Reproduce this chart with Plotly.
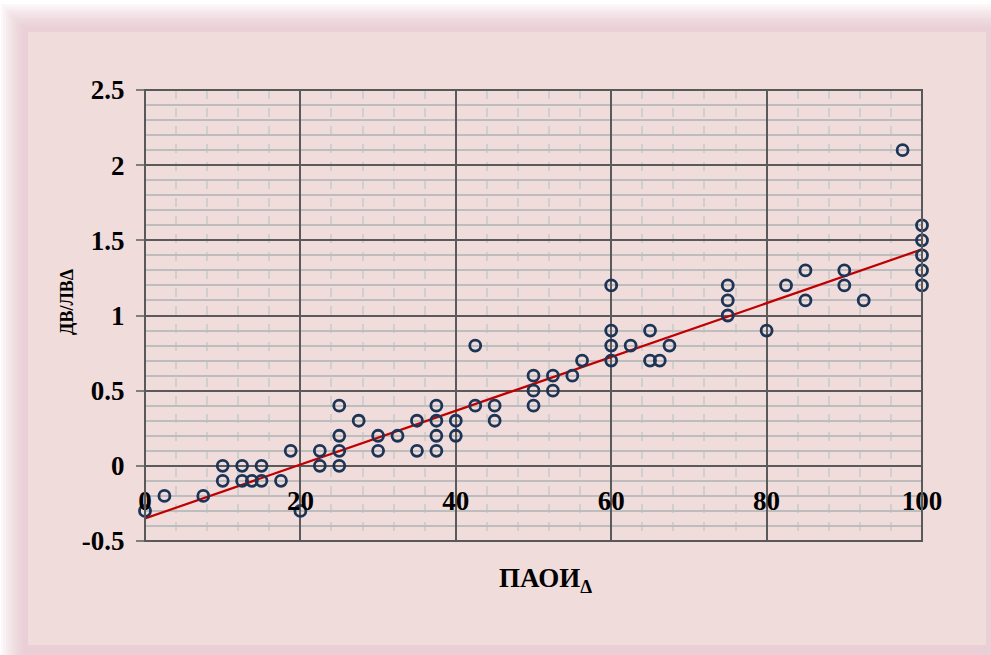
import plotly.graph_objects as go

# ---- data ----
paoi = [0, 2.5, 7.5, 10, 10, 12.5, 12.5, 13.75, 15, 15, 17.5, 18.75, 20, 22.5, 22.5,
        25, 25, 25, 25, 27.5, 30, 30, 32.5, 35, 35, 37.5, 37.5, 37.5, 37.5, 40, 40,
        42.5, 42.5, 45, 45, 50, 50, 50, 52.5, 52.5, 55, 56.25, 60, 60, 60, 60, 62.5,
        65, 65, 66.25, 67.5, 75, 75, 75, 80, 82.5, 85, 85, 90, 90, 92.5, 97.5,
        100, 100, 100, 100, 100]
dv_lv = [-0.3, -0.2, -0.2, 0, -0.1, 0, -0.1, -0.1, 0, -0.1, -0.1, 0.1, -0.3, 0.1, 0,
         0.4, 0.2, 0.1, 0, 0.3, 0.2, 0.1, 0.2, 0.3, 0.1, 0.4, 0.3, 0.2, 0.1, 0.3, 0.2,
         0.8, 0.4, 0.4, 0.3, 0.6, 0.5, 0.4, 0.6, 0.5, 0.6, 0.7, 1.2, 0.9, 0.8, 0.7, 0.8,
         0.9, 0.7, 0.7, 0.8, 1.2, 1.1, 1.0, 0.9, 1.2, 1.3, 1.1, 1.3, 1.2, 1.1, 2.1,
         1.6, 1.5, 1.4, 1.3, 1.2]
trend_x = [0, 100]
trend_y = [-0.35, 1.44]
x_ticks = [0, 20, 40, 60, 80, 100]
x_tick_labels = ["0", "20", "40", "60", "80", "100"]
y_ticks = [-0.5, 0, 0.5, 1, 1.5, 2, 2.5]
y_tick_labels = ["-0.5", "0", "0.5", "1", "1.5", "2", "2.5"]
x_title = "ПАОИ<sub>Δ</sub>"
y_title = "ДВ/ЛВΔ"

W, H = 991, 655
L, R, T, B = 145, 922, 90, 541
FONT = "Liberation Serif"


def px(xp):
    return (xp - L) / (R - L)


def py(yp):
    return (B - yp) / (B - T)


fig = go.Figure()
fig.add_trace(go.Scatter(x=trend_x, y=trend_y, mode="lines",
                         line=dict(color="#c00000", width=2.2), showlegend=False,
                         hoverinfo="skip"))
fig.add_trace(go.Scatter(x=paoi, y=dv_lv, mode="markers", showlegend=False,
                         cliponaxis=False,
                         marker=dict(symbol="circle", size=11, color="rgba(255,255,255,0)",
                                     line=dict(color="#1c3557", width=2.8))))
# invisible trace for the crossing axis that carries the x tick labels
fig.add_trace(go.Scatter(x=[0], y=[0], xaxis="x2", mode="markers",
                         marker=dict(opacity=0), showlegend=False, hoverinfo="skip"))

shapes = []
# soft outer glow
for i in range(10):
    shapes.append(dict(type="rect", xref="paper", yref="paper", layer="below",
                       x0=px(1 + 2.5 * i), x1=px(W + 5), y0=py(H + 5), y1=py(4 + 2.6 * i),
                       fillcolor="#e5bfc3", opacity=0.10, line=dict(width=0)))
# inner panel
shapes.append(dict(type="rect", xref="paper", yref="paper", layer="below",
                   x0=px(28), x1=px(986), y0=py(645), y1=py(32),
                   fillcolor="#f1dcdc", line=dict(width=0)))
# plot border
shapes.append(dict(type="rect", xref="paper", yref="paper", layer="above",
                   x0=0, x1=1, y0=0, y1=1, line=dict(color="#595959", width=2)))
fig.update_layout(shapes=shapes)

fig.update_layout(
    width=W, height=H,
    margin=dict(l=L, r=W - R, t=T, b=H - B),
    paper_bgcolor="#ffffff", plot_bgcolor="#ffffff",
    font=dict(family=FONT, color="#000000"),
    xaxis=dict(range=[0, 100], tickvals=x_ticks, showticklabels=False,
               showgrid=True, gridcolor="#5a5a5a", gridwidth=1.5,
               minor=dict(dtick=4, showgrid=True, gridcolor="#cfcfcf",
                          gridwidth=2, griddash="dash"),
               zeroline=False, showline=False, ticks=""),
    xaxis2=dict(range=[0, 100], overlaying="x", anchor="free", position=1 / 6,
                side="bottom", tickvals=x_ticks, ticktext=x_tick_labels,
                showgrid=False, zeroline=False, showline=False, ticks="",
                ticklabelstandoff=16,
                tickfont=dict(family=FONT, size=27, color="#000000", weight="bold")),
    yaxis=dict(range=[-0.5, 2.5], tickvals=y_ticks, ticktext=y_tick_labels,
               showgrid=True, gridcolor="#5a5a5a", gridwidth=1.5,
               minor=dict(dtick=0.1, showgrid=True, gridcolor="#bdbdbd", gridwidth=2),
               zeroline=True, zerolinecolor="#5a5a5a", zerolinewidth=1.5,
               showline=False, ticks="outside", ticklen=8, tickwidth=1.5,
               tickcolor="#7f7f7f", ticklabelstandoff=6,
               tickfont=dict(family=FONT, size=27, color="#000000", weight="bold")),
    annotations=[
        dict(text=x_title, xref="paper", yref="paper", x=px(545), y=py(580),
             xanchor="center", yanchor="middle", showarrow=False,
             font=dict(family=FONT, size=27, color="#000000", weight="bold")),
        dict(text=y_title, xref="paper", yref="paper", x=px(67), y=py(302),
             xanchor="center", yanchor="middle", showarrow=False, textangle=-90,
             font=dict(family=FONT, size=18, color="#000000", weight="bold")),
    ],
)

fig.write_html("out.html")
